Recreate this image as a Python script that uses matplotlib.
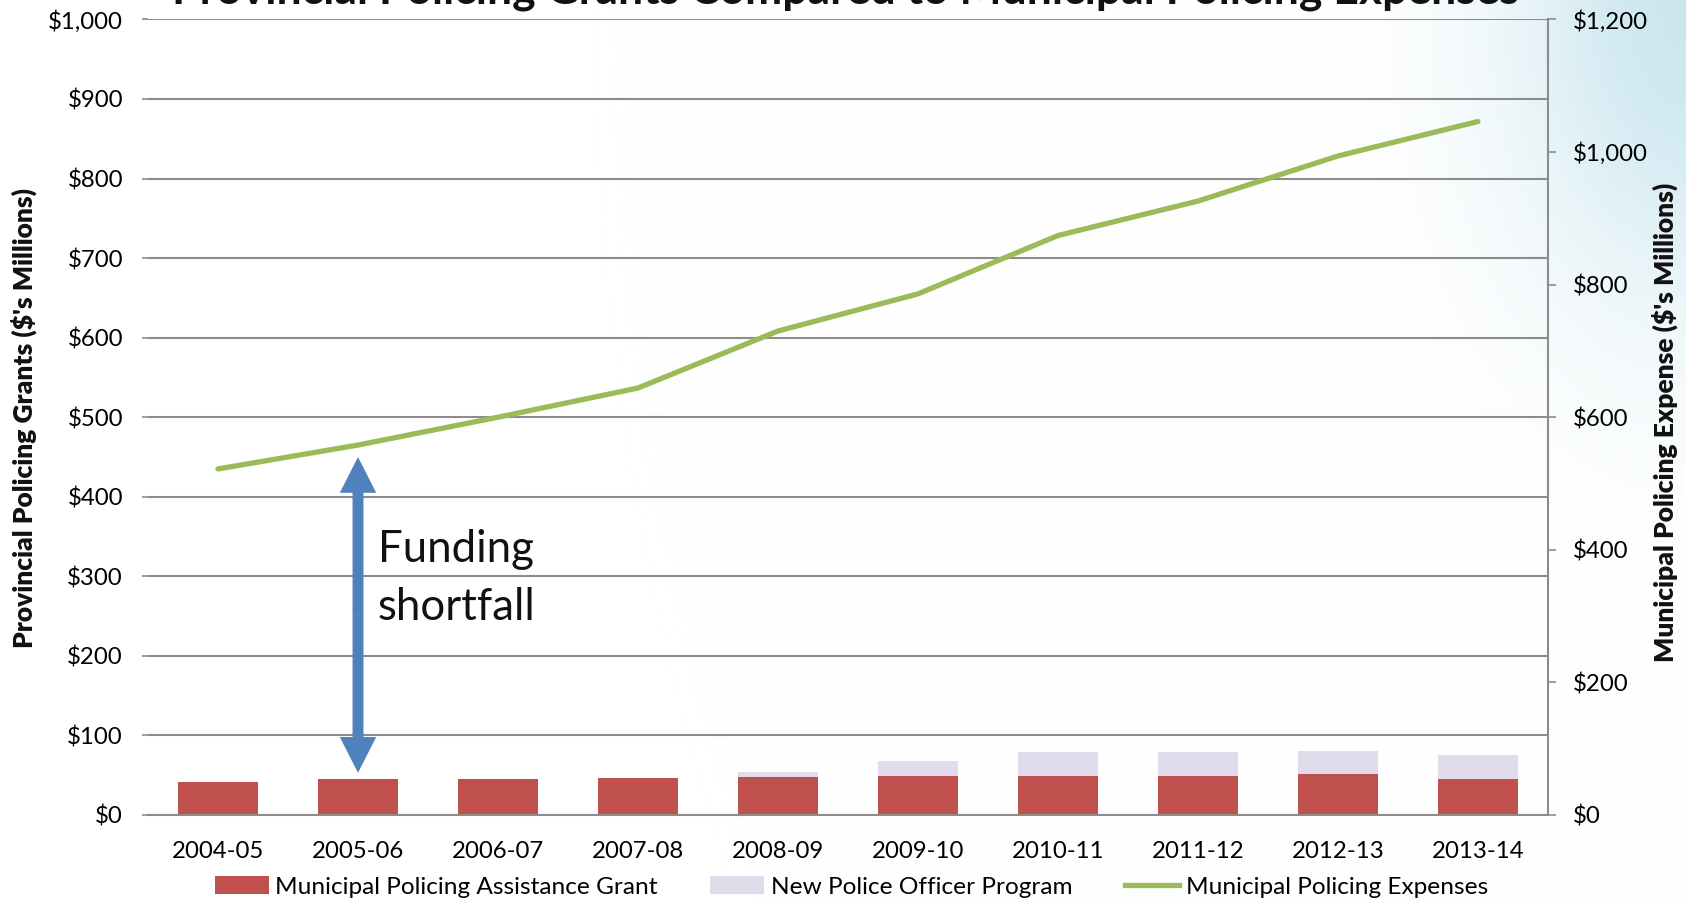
import numpy as np
import matplotlib
matplotlib.use("Agg")
import matplotlib.pyplot as plt
from matplotlib.patches import Patch, FancyArrow
from matplotlib.lines import Line2D

# ---------------- data ----------------
categories = ["2004-05", "2005-06", "2006-07", "2007-08", "2008-09",
              "2009-10", "2010-11", "2011-12", "2012-13", "2013-14"]
assistance_grant = [41.5, 45.0, 45.5, 46.5, 47.5, 48.5, 49.5, 49.5, 51.0, 45.5]
new_officer_program = [0.0, 0.0, 0.0, 0.0, 7.0, 20.0, 30.0, 30.0, 30.0, 30.5]
policing_expenses = [522, 558, 600, 644, 730, 786, 874, 926, 994, 1046]

left_ticks = [0, 100, 200, 300, 400, 500, 600, 700, 800, 900, 1000]
right_ticks = [0, 200, 400, 600, 800, 1000, 1200]

title = "Provincial Policing Grants Compared to Municipal Policing Expenses"
left_label = "Provincial Policing Grants ($'s Millions)"
right_label = "Municipal Policing Expense ($'s Millions)"
series_names = ["Municipal Policing Assistance Grant",
                "New Police Officer Program",
                "Municipal Policing Expenses"]

# ---------------- style ----------------
FONT = "Lato"
plt.rcParams["font.family"] = [FONT, "DejaVu Sans"]
RED = "#C0504D"
LAV = "#E1DCEB"
GREEN = "#9BBB59"
BLUE = "#4F81BD"
GRID = "#8C8C8C"
TICKFS = 17.3

W, H = 1686, 901
fig = plt.figure(figsize=(W / 100, H / 100), dpi=100)
fig.patch.set_facecolor("white")

# soft blue gradient in the top-right corner (decorative background)
bg = fig.add_axes([0, 0, 1, 1], zorder=-5)
yy, xx = np.mgrid[0:H:3, 0:W:3]
dx = (W - xx) / 180.0
dy = yy / 300.0
f = 0.6 * np.exp(-(dx ** 2 + dy ** 2))
base = np.array([1.0, 1.0, 1.0])
blue = np.array([0.66, 0.84, 0.90])
img = base[None, None, :] * (1 - f[..., None]) + blue[None, None, :] * f[..., None]
bg.imshow(img, extent=[0, 1, 0, 1], aspect="auto", origin="upper")
bg.axis("off")

left, right = 148 / W, 1548 / W
bottom, top = 1 - 815 / H, 1 - 19.4 / H
ax = fig.add_axes([left, bottom, right - left, top - bottom], zorder=1)
ax.patch.set_alpha(0)

x = np.arange(len(categories))
bw = 0.57
ax.bar(x, assistance_grant, width=bw, color=RED, zorder=2, linewidth=0)
ax.bar(x, new_officer_program, width=bw, bottom=assistance_grant,
       color=LAV, zorder=2, linewidth=0)

ax.set_xlim(-0.5, len(categories) - 0.5)
ax.set_ylim(0, 1000)
ax.set_yticks(left_ticks)
ax.set_yticklabels([f"${v:,}" for v in left_ticks])
ax.set_xticks(x)
ax.set_xticklabels(categories)
ax.yaxis.grid(True, color=GRID, linewidth=1.5)
ax.set_axisbelow(True)
for s in ["top", "right", "left"]:
    ax.spines[s].set_visible(False)
ax.spines["bottom"].set_color(GRID)
ax.spines["bottom"].set_linewidth(1.5)
ax.tick_params(axis="y", length=4.5, width=1.2, color=GRID, pad=13.5,
               labelsize=TICKFS)
ax.tick_params(axis="x", length=0, pad=18.5, labelsize=TICKFS)

ax2 = ax.twinx()
ax2.plot(x, policing_expenses, color=GREEN, linewidth=3.8,
         solid_capstyle="round", zorder=3)
ax2.set_ylim(0, 1200)
ax2.set_yticks(right_ticks)
ax2.set_yticklabels([f"${v:,}" for v in right_ticks])
for s in ["top", "left", "bottom"]:
    ax2.spines[s].set_visible(False)
ax2.spines["right"].set_color(GRID)
ax2.spines["right"].set_linewidth(1.5)
ax2.tick_params(axis="y", length=6, width=1.2, color=GRID, pad=12,
                labelsize=TICKFS)

# double-headed "Funding shortfall" arrow (annotation, in left-axis units)
ax_x, y_top, y_bot = 1.0, 450.0, 53.0
ymid = (y_top + y_bot) / 2
shaft_w, head_w, head_l = 0.078, 0.26, 45.0
for y0, dy_ in [(ymid, y_top - ymid), (ymid, y_bot - ymid)]:
    ax.add_patch(FancyArrow(ax_x, y0, 0, dy_, width=shaft_w, head_width=head_w,
                            head_length=head_l, length_includes_head=True,
                            color=BLUE, linewidth=0, zorder=4))
ax.text(1.14, 318, "Funding", fontsize=31.5, color="#111111", va="baseline",
        ha="left", zorder=5)
ax.text(1.14, 245, "shortfall", fontsize=31.5, color="#111111", va="baseline",
        ha="left", zorder=5)

# titles / axis labels
fig.text(0.5015, 1 - 3.2 / H, title, fontsize=32, fontweight="bold",
         ha="center", va="baseline", color="#111111")
fig.text(24 / W, 0.536, left_label, rotation=90, fontsize=19,
         fontweight="heavy", ha="center", va="center", color="#111111")
fig.text(1665 / W, 0.531, right_label, rotation=90, fontsize=19,
         fontweight="heavy", ha="center", va="center", color="#111111")

handles = [Patch(facecolor=RED, edgecolor="none"),
           Patch(facecolor=LAV, edgecolor="none"),
           Line2D([0], [0], color=GREEN, linewidth=3.8)]
fig.legend(handles, series_names, loc="center", bbox_to_anchor=(0.505, 0.0155),
           ncol=3, frameon=False, fontsize=17.6, handlelength=2.2,
           handleheight=0.7, handletextpad=0.28, columnspacing=2.15,
           borderpad=0, borderaxespad=0)

fig.savefig("out.png", dpi=100)
